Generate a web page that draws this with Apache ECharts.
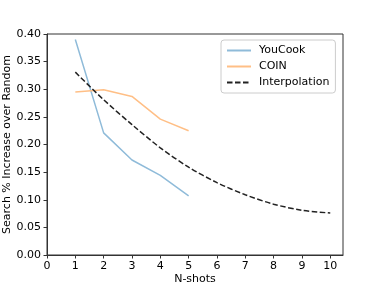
<!DOCTYPE html>
<html>
<head>
<meta charset="utf-8">
<script src="https://cdn.jsdelivr.net/npm/echarts@6/dist/echarts.min.js"></script>
<style>html,body{margin:0;padding:0;background:#fff;}#c{width:381px;height:286px;}</style>
</head>
<body>
<div id="c"></div>
<script>
const shots = [1, 2, 3, 4, 5];
const youcook = [0.390, 0.221, 0.172, 0.144, 0.107];
const coin = [0.295, 0.299, 0.287, 0.246, 0.225];
const interpX = [1, 2, 3, 4, 5, 6, 7, 8, 9, 10];
const interpY = [0.331, 0.281, 0.236, 0.194, 0.159, 0.131, 0.109, 0.092, 0.081, 0.076];
const xTicks = [0, 1, 2, 3, 4, 5, 6, 7, 8, 9, 10];

const font = 'DejaVu Sans';
const chart = echarts.init(document.getElementById('c'), null, {renderer: 'canvas'});
const pair = (xs, ys) => xs.map((x, i) => [x, ys[i]]);
chart.setOption({
  animation: false,
  backgroundColor: '#fff',
  textStyle: {fontFamily: font},
  grid: {left: 47, top: 34, right: 38, bottom: 31, containLabel: false, outerBoundsMode: 'none',
         show: true, borderColor: '#333', borderWidth: 1, backgroundColor: 'transparent'},
  xAxis: {
    type: 'value', min: 0, max: 10.45,
    name: 'N-shots', nameLocation: 'middle', nameGap: 19, nameMoveOverlap: false,
    nameTextStyle: {color: '#000', fontSize: 11, fontFamily: font, verticalAlign: 'top'},
    axisLine: {show: true, lineStyle: {color: '#333', width: 1}},
    axisTick: {show: true, length: 3.5, customValues: xTicks, lineStyle: {color: '#333'}},
    axisLabel: {customValues: xTicks, color: '#000', fontSize: 11, fontFamily: font, margin: 6},
    splitLine: {show: false}
  },
  yAxis: {
    type: 'value', min: 0, max: 0.4, interval: 0.05,
    name: 'Search % Increase over Random', nameLocation: 'middle', nameGap: 34, nameMoveOverlap: false,
    nameTextStyle: {color: '#000', fontSize: 11, fontFamily: font},
    axisLine: {show: true, lineStyle: {color: '#333', width: 1}},
    axisTick: {show: true, length: 3.5, lineStyle: {color: '#333'}},
    axisLabel: {color: '#000', fontSize: 11, fontFamily: font, margin: 6, formatter: v => v.toFixed(2)},
    splitLine: {show: false}
  },
  legend: {
    orient: 'vertical', left: 221, top: 40, width: 116,
    padding: [5, 6, 5, 5], itemGap: 5, itemWidth: 24, itemHeight: 12,
    backgroundColor: '#fff', borderColor: '#ccc', borderWidth: 1, borderRadius: 3,
    itemStyle: {opacity: 0},
    textStyle: {color: '#000', fontSize: 11, fontFamily: font, padding: [0, 0, 0, 3]},
    data: ['YouCook', 'COIN', 'Interpolation']
  },
  series: [
    {name: 'YouCook', type: 'line', data: pair(shots, youcook), symbol: 'none',
     lineStyle: {color: '#8fbbd9', width: 1.5}, itemStyle: {color: '#8fbbd9'}},
    {name: 'COIN', type: 'line', data: pair(shots, coin), symbol: 'none',
     lineStyle: {color: '#ffbf86', width: 1.5}, itemStyle: {color: '#ffbf86'}},
    {name: 'Interpolation', type: 'line', data: pair(interpX, interpY), symbol: 'none', smooth: 0.3,
     lineStyle: {color: '#222', width: 1.5, type: [5.5, 2.5]}, itemStyle: {color: '#222'}}
  ]
});
</script>
</body>
</html>
